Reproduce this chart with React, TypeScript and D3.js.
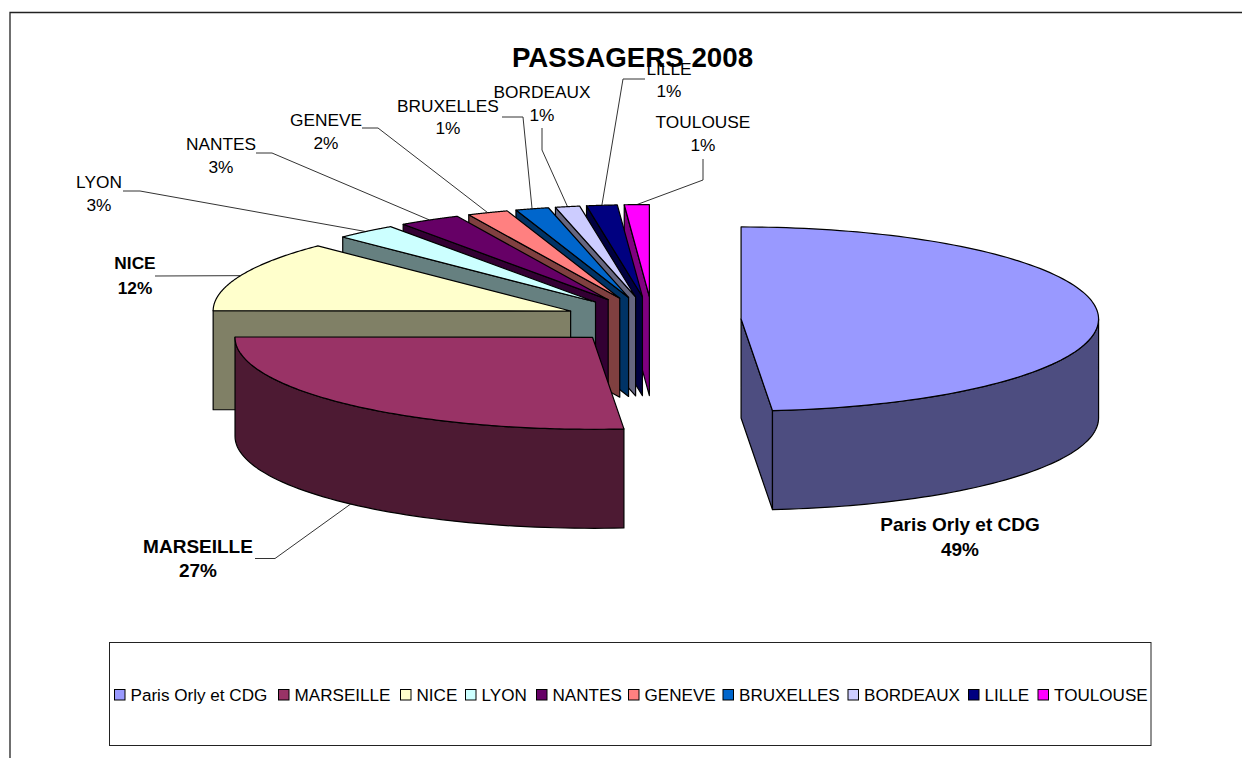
import React, { useEffect, useRef } from "react";
import * as d3 from "d3";

const cities = ["Paris Orly et CDG", "MARSEILLE", "NICE", "LYON", "NANTES", "GENEVE", "BRUXELLES", "BORDEAUX", "LILLE", "TOULOUSE"];
const shares = [48.6, 26.45, 12.45, 2.78, 2.78, 1.84, 1.5, 1.1, 1.38, 1.12];
const percentLabels = ["49%", "27%", "12%", "3%", "3%", "2%", "1%", "1%", "1%", "1%"];
const topColors = ["#9999FF", "#993366", "#FFFFCC", "#CCFFFF", "#660066", "#FF8080", "#0066CC", "#CCCCFF", "#000080", "#FF00FF"];
const sideColors = ["#4D4D80", "#4D1A33", "#808066", "#668080", "#330033", "#804040", "#003366", "#666680", "#000040", "#800080"];
const labelSizes = [19, 19, 17.3, 17.3, 17.3, 17.3, 17.3, 17.3, 17.3, 17.3];

// label centres: [x, y of the name line, y of the percent line]
const labelSpots = [
  [960, 531, 556],
  [198, 553, 577],
  [135, 269, 294],
  [99, 188, 211],
  [221, 150, 173],
  [326, 126, 149],
  [448, 112, 134],
  [542, 98, 121],
  [669, 75, 97],
  [703, 128, 151],
];
// where the leader line leaves the label: list of points before it runs to the slice
const leaderStarts = [
  null,
  [[255, 558.5], [275, 558.5]],
  [[155, 276]],
  [[123, 191], [140, 191]],
  [[256, 153], [272, 153]],
  [[362, 128], [378, 128]],
  [[502, 117], [523, 117]],
  [[542, 128], [542, 150]],
  [[645, 79], [623, 79]],
  [[703, 159], [703, 180]],
];
// left edge of each legend swatch
const legendSpots = [114, 278, 400, 465, 536, 628, 722.5, 847.5, 968, 1037.5];

const WIDTH = 1242;
const HEIGHT = 758;
const cx = 652.5;
const cy = 320;
const rx = 357.5;
const ry = 92;
const depth = 99;
const explodeX = 0.248;
const explodeY = 0.255;
const FONT = "'Liberation Sans', Arial, sans-serif";

const App = () => {
  const svgRef = useRef(null);

  useEffect(() => {
    const svg = d3.select(svgRef.current);
    svg.selectAll("*").remove();

    const slices = d3.pie().sort(null).value((d) => d)(shares);
    const line = d3.line();

    const info = slices.map((s) => {
      const mid = (s.startAngle + s.endAngle) / 2;
      const ox = cx + explodeX * rx * Math.sin(mid);
      const oy = cy - explodeY * ry * Math.cos(mid);
      const at = (a) => [ox + rx * Math.sin(a), oy - ry * Math.cos(a)];
      return { ...s, mid, ox, oy, at };
    });

    // frame, only top and left are on the picture
    svg
      .append("path")
      .attr("d", `M10,${HEIGHT} V12.5 H${WIDTH}`)
      .attr("fill", "none")
      .attr("stroke", "#222")
      .attr("stroke-width", 1.3);

    // leader lines go under the pie
    info.forEach((s, i) => {
      if (!leaderStarts[i]) return;
      const end = s.at(s.mid);
      if (Math.cos(s.mid) < 0) end[1] += depth;
      svg
        .append("path")
        .attr("d", line([...leaderStarts[i], end]))
        .attr("fill", "none")
        .attr("stroke", "#333")
        .attr("stroke-width", 1);
    });

    // back to front: last slice first
    [...info].reverse().forEach((s) => {
      const i = s.index;
      const g = svg.append("g").attr("stroke", "#000").attr("stroke-width", 1.2).attr("stroke-linejoin", "round");
      const origin = [s.ox, s.oy];

      const wall = (pts) => {
        const lower = pts.map((p) => [p[0], p[1] + depth]).reverse();
        g.append("path").attr("d", line([...pts, ...lower]) + "Z").attr("fill", sideColors[i]);
      };

      // flat walls, seen only when they face the viewer
      if (Math.sin(s.startAngle) < -0.001) wall([origin, s.at(s.startAngle)]);
      if (Math.sin(s.endAngle) > 0.001) wall([origin, s.at(s.endAngle)]);

      // rounded wall on the front half
      const a0 = Math.max(s.startAngle, Math.PI / 2);
      const a1 = Math.min(s.endAngle, (3 * Math.PI) / 2);
      if (a1 > a0) {
        wall(d3.range(0, 61).map((k) => s.at(a0 + ((a1 - a0) * k) / 60)));
      }

      // top surface
      const rim = d3.range(0, 121).map((k) => s.at(s.startAngle + ((s.endAngle - s.startAngle) * k) / 120));
      g.append("path").attr("d", line([origin, ...rim]) + "Z").attr("fill", topColors[i]);
    });

    // title
    svg
      .append("text")
      .attr("x", 632.5)
      .attr("y", 67)
      .attr("text-anchor", "middle")
      .attr("font-family", FONT)
      .attr("font-size", 27.7)
      .attr("font-weight", "bold")
      .text("PASSAGERS 2008");

    // data labels, the three big slices are bold
    cities.forEach((city, i) => {
      const [x, y1, y2] = labelSpots[i];
      const t = svg
        .append("g")
        .attr("text-anchor", "middle")
        .attr("font-family", FONT)
        .attr("font-size", labelSizes[i])
        .attr("font-weight", i < 3 ? "bold" : "normal")
        .attr("fill", "#000");
      t.append("text").attr("x", x).attr("y", y1).text(city);
      t.append("text").attr("x", x).attr("y", y2).text(percentLabels[i]);
    });

    // legend
    svg
      .append("rect")
      .attr("x", 109.5)
      .attr("y", 642.5)
      .attr("width", 1041.5)
      .attr("height", 103)
      .attr("fill", "#fff")
      .attr("stroke", "#222")
      .attr("stroke-width", 1);

    cities.forEach((city, i) => {
      const x = legendSpots[i];
      svg
        .append("rect")
        .attr("x", x + 0.5)
        .attr("y", 689.5)
        .attr("width", 10.5)
        .attr("height", 10.5)
        .attr("fill", topColors[i])
        .attr("stroke", "#000")
        .attr("stroke-width", 1);
      svg
        .append("text")
        .attr("x", x + 16.5)
        .attr("y", 701)
        .attr("font-family", FONT)
        .attr("font-size", 17.1)
        .text(city);
    });
  }, []);

  return (
    <svg
      ref={svgRef}
      width={WIDTH}
      height={HEIGHT}
      style={{ position: "absolute", left: 0, top: 0, display: "block", background: "#fff" }}
    />
  );
};

export default App;
